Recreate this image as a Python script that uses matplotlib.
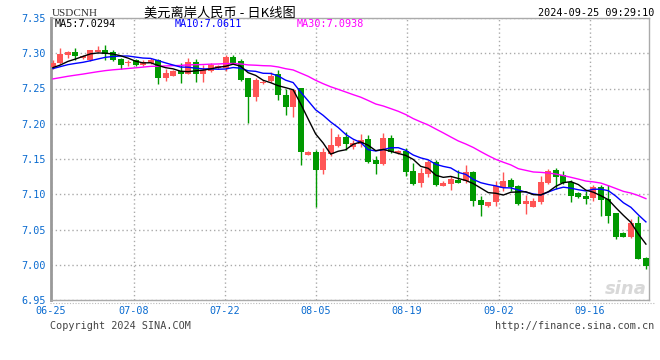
import matplotlib
matplotlib.use('Agg')
import matplotlib.pyplot as plt
import pandas as pd
from matplotlib.lines import Line2D

plt.rcParams['font.family'] = ['DejaVu Sans Mono']

symbol = 'USDCNH'
title = '美元离岸人民币 - 日K线图'
stamp = '2024-09-25 09:29:10'
ma_labels = ['MA5:7.0294', 'MA10:7.0611', 'MA30:7.0938']

tick_labels = ['06-25', '07-08', '07-22', '08-05', '08-19', '09-02', '09-16']
y_ticks = [6.95, 7.00, 7.05, 7.10, 7.15, 7.20, 7.25, 7.30, 7.35]

# closes before 06-25, only used so the moving averages start where they should
prior_close = [7.243, 7.245, 7.248, 7.250, 7.252, 7.255, 7.254, 7.256, 7.258, 7.257,
               7.255, 7.257, 7.259, 7.258, 7.260, 7.262, 7.263, 7.262, 7.265, 7.267,
               7.270, 7.274, 7.278, 7.280, 7.282, 7.280, 7.276, 7.279, 7.277]

opens = [7.2806, 7.2863, 7.2976, 7.3014, 7.2939, 7.2910, 7.3024, 7.3052, 7.3014, 7.2920,
         7.2863, 7.2900, 7.2835, 7.2863, 7.2900, 7.2652, 7.2677, 7.2745, 7.2707, 7.2875,
         7.2707, 7.2745, 7.2792, 7.2790, 7.2945, 7.2890, 7.2646, 7.2382, 7.2580, 7.2608,
         7.2703, 7.2408, 7.2240, 7.2509, 7.1560, 7.1600, 7.1343, 7.1575, 7.1690, 7.1810,
         7.1664, 7.1711, 7.1782, 7.1490, 7.1428, 7.1796, 7.1579, 7.1610, 7.1331, 7.1163,
         7.1286, 7.1456, 7.1119, 7.1147, 7.1203, 7.1190, 7.1316, 7.0918, 7.0836, 7.0883,
         7.1086, 7.1204, 7.1118, 7.0864, 7.0824, 7.0888, 7.1154, 7.1343, 7.1276, 7.1175,
         7.1021, 7.0975, 7.0950, 7.1098, 7.0930, 7.0730, 7.0455, 7.0390, 7.0597, 7.0100]
highs = [7.2910, 7.3071, 7.3038, 7.3071, 7.2976, 7.3052, 7.3099, 7.3118, 7.3042, 7.2939,
         7.2900, 7.2920, 7.2900, 7.2939, 7.2920, 7.2770, 7.2769, 7.2856, 7.2931, 7.2912,
         7.2830, 7.2868, 7.2840, 7.2974, 7.2974, 7.2915, 7.2655, 7.2655, 7.2618, 7.2740,
         7.2760, 7.2500, 7.2500, 7.2514, 7.1610, 7.1626, 7.1652, 7.1936, 7.1858, 7.1880,
         7.1772, 7.1858, 7.1841, 7.1541, 7.1862, 7.1843, 7.1626, 7.1650, 7.1450, 7.1370,
         7.1490, 7.1484, 7.1182, 7.1260, 7.1343, 7.1411, 7.1336, 7.0972, 7.0890, 7.1190,
         7.1320, 7.1228, 7.1130, 7.0996, 7.0950, 7.1260, 7.1362, 7.1370, 7.1330, 7.1200,
         7.1036, 7.1045, 7.1125, 7.1125, 7.1128, 7.0739, 7.0465, 7.0654, 7.0692, 7.0116]
lows = [7.2773, 7.2854, 7.2939, 7.2910, 7.2920, 7.2891, 7.3014, 7.2910, 7.2891, 7.2778,
        7.2825, 7.2825, 7.2825, 7.2844, 7.2565, 7.2605, 7.2674, 7.2582, 7.2703, 7.2592,
        7.2594, 7.2735, 7.2780, 7.2752, 7.2842, 7.2600, 7.2013, 7.2325, 7.2570, 7.2599,
        7.2340, 7.2125, 7.2089, 7.1416, 7.1560, 7.0817, 7.1290, 7.1540, 7.1674, 7.1625,
        7.1645, 7.1664, 7.1442, 7.1286, 7.1409, 7.1579, 7.1570, 7.1258, 7.1128, 7.1100,
        7.1248, 7.1116, 7.1116, 7.1062, 7.1154, 7.1166, 7.0835, 7.0691, 7.0824, 7.0836,
        7.1053, 7.1052, 7.0852, 7.0722, 7.0824, 7.0860, 7.1145, 7.1070, 7.1140, 7.0892,
        7.0947, 7.0866, 7.0910, 7.0685, 7.0597, 7.0371, 7.0390, 7.0380, 7.0087, 6.9945]
closes = [7.2863, 7.2986, 7.3014, 7.2957, 7.2957, 7.3042, 7.3052, 7.2995, 7.2900, 7.2835,
          7.2873, 7.2835, 7.2873, 7.2910, 7.2646, 7.2714, 7.2752, 7.2705, 7.2875, 7.2706,
          7.2764, 7.2840, 7.2820, 7.2945, 7.2856, 7.2620, 7.2382, 7.2627, 7.2599, 7.2684,
          7.2408, 7.2240, 7.2480, 7.1605, 7.1605, 7.1343, 7.1600, 7.1692, 7.1810, 7.1711,
          7.1730, 7.1768, 7.1456, 7.1428, 7.1796, 7.1598, 7.1617, 7.1315, 7.1145, 7.1305,
          7.1456, 7.1130, 7.1163, 7.1211, 7.1160, 7.1316, 7.0906, 7.0845, 7.0888, 7.1115,
          7.1190, 7.1105, 7.0864, 7.0906, 7.0906, 7.1172, 7.1331, 7.1249, 7.1165, 7.0975,
          7.0966, 7.0937, 7.1100, 7.0918, 7.0692, 7.0395, 7.0400, 7.0597, 7.0088, 6.9984]

up_color = '#ff5555'
down_color = '#009900'
blue_text = '#0a6bd0'

W, H = 660, 360


def fx(px):
    return px / W


def fy(py):
    return 1 - py / H


fig = plt.figure(figsize=(6.6, 3.6), dpi=100)
ax = fig.add_axes([fx(50.7), fy(300), (649.3 - 50.7) / W, (300 - 18) / H])

x = list(range(len(closes)))
colors = [up_color if c >= o else down_color for o, c in zip(opens, closes)]
bottoms = [min(o, c) for o, c in zip(opens, closes)]
heights = [max(abs(c - o), 0.0006) for o, c in zip(opens, closes)]

ax.vlines(x, lows, highs, colors=colors, lw=1, zorder=3)
ax.bar(x, heights, bottom=bottoms, width=0.8, color=colors, linewidth=0, zorder=4)

# moving averages
all_close = pd.Series(prior_close + closes)
n0 = len(prior_close)
ma5 = all_close.rolling(5).mean().iloc[n0:].values
ma10 = all_close.rolling(10).mean().iloc[n0:].values
ma30 = all_close.rolling(30).mean().iloc[n0:].values
ax.plot(x, ma30, color='#ff00ff', lw=1, zorder=5)
ax.plot(x, ma10, color='#0000ff', lw=1, zorder=5)
ax.plot(x, ma5, color='black', lw=1, zorder=5)

ax.set_xlim(-0.3, 79.45)
ax.set_ylim(6.95, 7.35)
ax.set_yticks(y_ticks)
ax.set_yticklabels([f'{v:.2f}' for v in y_ticks])
tick_pos = [-0.3, 10.75, 22.9, 35.05, 47.15, 59.4, 71.55]
ax.set_xticks(tick_pos)
ax.set_xticklabels(tick_labels)
ax.tick_params(length=0, colors=blue_text, labelsize=7.3)
ax.tick_params(axis='y', pad=3.4)
ax.tick_params(axis='x', pad=4)
ax.grid(color='#aaaaaa', linestyle=(0, (1, 2)), lw=1)
ax.set_axisbelow(True)
for side in ['top', 'right', 'bottom']:
    ax.spines[side].set_color('#aaaaaa')
    ax.spines[side].set_linewidth(1)
ax.spines['left'].set_color('#999999')
ax.spines['left'].set_linewidth(2)

fig.add_artist(Line2D([fx(50), fx(654)], [fy(302.5), fy(302.5)], color='#bbbbbb',
                      lw=0.8, linestyle=(0, (1, 1.5))))

# header texts
fig.text(fx(52), fy(14), symbol, family='Liberation Serif', size=8, color='#333333', va='center')
fig.text(fx(220), fy(13), title, family=['Noto Sans CJK SC', 'DejaVu Sans'], size=9.5,
         ha='center', va='center')
fig.text(fx(654), fy(13), stamp, ha='right', va='center', size=7.3)
for lbl, px, col in zip(ma_labels, [55, 175, 297], ['black', '#0000ff', '#ff00ff']):
    fig.text(fx(px), fy(24), lbl, va='center', size=7.3, color=col)

# footer texts
fig.text(fx(50), fy(326), 'Copyright 2024 SINA.COM', va='center', size=7.3, color='#444444')
fig.text(fx(654), fy(326), 'http://finance.sina.com.cn', ha='right', va='center', size=7.3,
         color='#444444')
fig.text(fx(647), fy(289), 'sina', ha='right', va='center', size=13, style='italic',
         weight='bold', color='#d8d8d8', family='DejaVu Sans')

fig.savefig('out.png', dpi=100)
